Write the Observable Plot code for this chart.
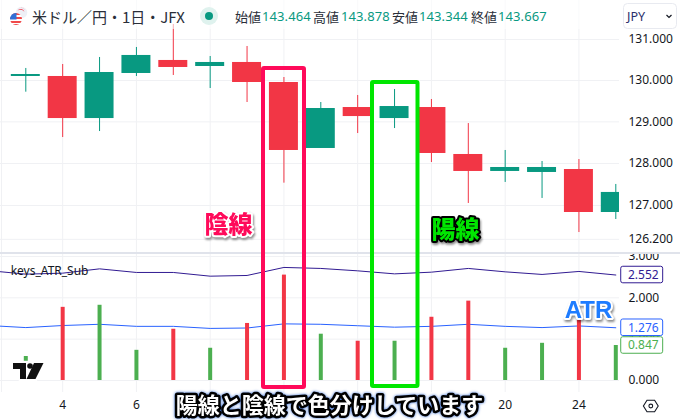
<!DOCTYPE html>
<html lang="ja">
<head>
<meta charset="utf-8">
<script src="https://cdn.jsdelivr.net/npm/d3@7"></script>
<script src="https://cdn.jsdelivr.net/npm/@observablehq/plot@0.6"></script>
<style>
html,body{margin:0;padding:0;background:#fff}
#stage{position:relative;width:680px;height:420px;overflow:hidden;background:#fff}
#stage>svg,#stage>div{position:absolute}
.hdr span{position:absolute;white-space:nowrap;top:0;line-height:33px}
.jp{font-family:"Noto Sans CJK JP",sans-serif;color:#2a2e39}
.num{font-family:"Noto Sans",sans-serif;color:#089981;font-size:13px;letter-spacing:.1px}
g.shadow text{filter:drop-shadow(1.5px 2px 1px rgba(0,0,0,.45))}
g.glow text{filter:drop-shadow(0 0 1.5px rgba(0,70,200,.8))}
</style>
</head>
<body>
<div id="stage"></div>
<script>
const candleIndex = [0,1,2,3,4,5,6,7,8,9,10,11,12,13,14,15,16];
const dayLabels   = [3,4,5,6,7,10,11,12,13,14,17,18,19,20,21,24,25];
const direction   = ["up","down","up","up","down","up","down","down","up","down","up","down","down","up","up","down","up"];
const high     = [130.293,130.390,130.561,130.805,131.368,130.585,130.829,130.073,129.467,129.637,129.782,129.540,128.959,128.312,128.048,128.096,127.500];
const low      = [129.717,128.623,128.767,130.098,130.122,129.806,129.467,127.531,128.360,128.719,128.839,128.024,127.048,127.548,127.167,126.360,126.668];
const bodyTop  = [130.146,130.098,130.195,130.610,130.488,130.439,130.439,129.952,129.322,129.346,129.370,129.346,128.216,127.905,127.905,127.857,127.310];
const bodyLow  = [130.098,129.080,129.080,130.171,130.317,130.341,129.952,128.312,128.360,129.128,129.080,128.240,127.810,127.810,127.786,126.834,126.834];
const trueRange = [0.58,1.77,1.82,0.73,1.24,0.78,1.38,2.55,1.12,0.95,0.95,1.53,1.92,0.78,0.90,1.51,0.847];
const lineIndex = [-1,0,1,2,3,4,5,6,7,8,9,10,11,12,13,14,15,16];
const upperLine = [2.658,2.573,2.597,2.701,2.614,2.614,2.524,2.541,2.735,2.711,2.653,2.580,2.621,2.711,2.629,2.566,2.638,2.552];
const lowerLine = [1.33,1.28,1.33,1.36,1.31,1.31,1.26,1.27,1.37,1.36,1.325,1.29,1.31,1.36,1.31,1.28,1.32,1.276];
const priceTicks = [131,130,129,128,127,126.2];
const atrTicks = [3,2,1,0];
const gridIndex = [1,3,5,7,9,11,13,15];
const labelIndex = [1,3,13,15];
const tags = [
  {value:2.552,color:"#311b92"},
  {value:1.276,color:"#2962ff"},
  {value:0.847,color:"#4caf50"}
];
const quote = [["始値","143.464"],["高値","143.878"],["安値","143.344"],["終値","143.667"]];

const RED="#f23645", TEAL="#089981", GREEN="#4caf50", GRID="#f0f1f4", TXT="#131722";
const PINK="#ff0a5a", LIME="#00e600";
const FONT="'Noto Sans',sans-serif";
const xScale={domain:[0,16],range:[25.3,615.3],axis:null};
const paneLeft=-0.66, paneRight=16.1, halfBody=0.393;
const candles=candleIndex.map((i,k)=>({i,dir:direction[k],high:high[k],low:low[k],top:bodyTop[k],bot:bodyLow[k]}));
const col=d=>d.dir==="up"?TEAL:RED;
const fmt=d3.format(".3f");
const common={width:680,marginLeft:0,marginTop:0,marginRight:61,x:xScale,style:{background:"transparent",fontFamily:FONT,fontSize:"12px",overflow:"hidden"}};

const topPlot=Plot.plot({...common,height:252,marginBottom:0,
  y:{type:"log",domain:[131,127],range:[39,205],axis:null},
  marks:[
    Plot.ruleY(priceTicks,{stroke:GRID}),
    Plot.ruleX([...gridIndex,paneLeft],{stroke:GRID}),
    Plot.ruleX(candles,{x:"i",y1:"low",y2:"high",stroke:col,strokeWidth:1}),
    Plot.rect(candles,{x1:d=>d.i-halfBody,x2:d=>Math.min(d.i+halfBody,paneRight),y1:"top",y2:"bot",fill:col}),
    Plot.axisY({anchor:"right",ticks:priceTicks,tickSize:0,tickPadding:9,tickFormat:fmt,label:null,fill:TXT})
  ]});

const bars=candleIndex.map((i,k)=>({i,v:trueRange[k],dir:direction[k]}));
const lineData=lineIndex.map((i,k)=>({i,up:upperLine[k],lo:lowerLine[k]}));
const botPlot=Plot.plot({...common,height:166,marginBottom:28,
  y:{domain:[0,3],range:[126,2],axis:null},
  marks:[
    Plot.ruleY(atrTicks,{stroke:GRID}),
    Plot.ruleX([...gridIndex,paneLeft],{stroke:GRID}),
    Plot.line(lineData,{x:"i",y:"up",stroke:"#311b92",strokeWidth:1}),
    Plot.line(lineData,{x:"i",y:"lo",stroke:"#2962ff",strokeWidth:1}),
    Plot.ruleX(bars,{x:"i",y1:0,y2:"v",strokeWidth:4,stroke:d=>d.dir==="up"?GREEN:RED}),
    Plot.axisY({anchor:"right",ticks:atrTicks,tickSize:0,tickPadding:9,tickFormat:fmt,label:null,fill:TXT}),
    Plot.axisX({anchor:"bottom",ticks:labelIndex,tickSize:0,tickPadding:8,tickFormat:d=>dayLabels[d],label:null,fill:TXT}),
    Plot.text(["keys_ATR_Sub"],{x:-0.41,y:2.64,textAnchor:"start",fill:TXT,fontSize:12}),
    Plot.rect(tags,{x1:16.147,x2:17.285,y1:d=>d.value-0.2,y2:d=>d.value+0.2,fill:"white",stroke:"color",rx:2}),
    Plot.text(tags,{x:16.33,y:"value",text:d=>fmt(d.value),textAnchor:"start",fill:"color"})
  ]});

const overlay=Plot.plot({width:680,height:420,margin:0,x:xScale,
  y:{domain:[0,3],range:[380,256],axis:null},
  style:{background:"transparent"},
  marks:[
    Plot.rect([0],{x1:6.446,x2:7.558,y1:7.549,y2:-0.169,fill:"none",stroke:PINK,strokeWidth:4,rx:1}),
    Plot.rect([0],{x1:9.402,x2:10.636,y1:7.21,y2:-0.145,fill:"none",stroke:LIME,strokeWidth:4,rx:1}),
    Plot.text(["陰線"],{x:5.497,y:3.762,fontSize:24,fontWeight:900,fontFamily:"'Noto Sans CJK JP'",fill:PINK,stroke:"white",strokeWidth:4,className:"shadow"}),
    Plot.text(["陽線"],{x:11.653,y:3.641,fontSize:24,fontWeight:900,fontFamily:"'Noto Sans CJK JP'",fill:LIME,stroke:"black",strokeWidth:4,className:"shadow"}),
    Plot.text(["ATR"],{x:15.26,y:1.706,fontSize:24,fontWeight:700,fontFamily:"'Liberation Sans'",fill:"#1e7cff",stroke:"white",strokeWidth:4,className:"shadow"}),
    Plot.text(["陽線と陰線で色分けしています"],{x:8.236,y:-0.605,fontSize:22,fontWeight:700,fontFamily:"'Noto Sans CJK JP'",fill:"white",stroke:"black",strokeWidth:5,className:"glow"})
  ]});

const stage=document.getElementById("stage");
function add(el,top){el.style.position="absolute";el.style.left="0";el.style.top=top+"px";el.style.display="block";stage.appendChild(el);return el;}
add(topPlot,0);
const sep=document.createElement("div");
sep.style.cssText="left:0;top:252px;width:680px;height:2px;background:#e0e3eb";
stage.appendChild(sep);
add(botPlot,254);
add(overlay,0);

// header
const hdr=document.createElement("div");
hdr.className="hdr";
hdr.style.cssText="left:0;top:0;width:600px;height:29px;background:rgba(255,255,255,.6)";
const add2=(txt,cls,left,size)=>{const s=document.createElement("span");s.textContent=txt;s.className=cls;s.style.left=left+"px";if(size)s.style.fontSize=size+"px";hdr.appendChild(s);};
add2("米ドル／円・1日・JFX","jp",32,15);
const quoteLeft=[235,313,392,471], numLeft=[262,341,419,498];
quote.forEach((q,k)=>{add2(q[0],"jp",quoteLeft[k],13);add2(q[1],"num",numLeft[k]);});
stage.appendChild(hdr);

const deco=document.createElement("div");
deco.style.cssText="left:0;top:0;width:680px;height:420px;pointer-events:none";
deco.innerHTML=`<svg width="680" height="420" style="position:absolute;left:0;top:0">
<circle cx="21.5" cy="12.5" r="5.8" fill="#eef0f6"/><path d="M18 8.5a5.5 5.5 0 0 1 7 1.5a5 5 0 0 0-7-1.5z M17.5 10.5a4 4 0 0 1 7 1.5a5 5 0 0 0-7-1.5z" fill="#f23645"/>
<circle cx="16" cy="19" r="6.2" fill="#fff"/>
<clipPath id="us"><circle cx="16" cy="19" r="6"/></clipPath>
<g clip-path="url(#us)"><rect x="9" y="13" width="14" height="2" fill="#f04a4a"/><rect x="9" y="17" width="14" height="2" fill="#f04a4a"/><rect x="9" y="21" width="14" height="2" fill="#f04a4a"/><rect x="9" y="24" width="14" height="2" fill="#f04a4a"/><rect x="9" y="13" width="7.5" height="6.5" fill="#2f6fd6"/></g>
<circle cx="209" cy="16" r="9" fill="#dff2ee"/><circle cx="209" cy="16" r="4" fill="#089981"/>
<rect x="623.5" y="3.5" width="53" height="25" rx="4" fill="#fff" stroke="#e8eaf0"/>
<path d="M666.5 15l2.5 2.5 2.5-2.5" fill="none" stroke="#131722" stroke-width="1.2"/>
<path d="M14 362h14v18h-8v-11h-6z M35 362h10l-9 18h-9z" fill="#fff" stroke="#fff" stroke-width="2.5"/>
<path d="M13 363h13v16h-6v-10h-7z M34 363h9.5l-8 16h-9z" fill="#111"/><circle cx="30" cy="366" r="2.8" fill="#111"/>
<path d="M647 400.3h7.6l3.6 5.7-3.6 5.7h-7.6l-3.6-5.7z" fill="none" stroke="#131722" stroke-width="1.1"/><circle cx="650.8" cy="406" r="1.9" fill="none" stroke="#131722" stroke-width="1.1"/>
<text x="627" y="21" font-family="'Noto Sans',sans-serif" font-size="12.5" fill="#2a2e6a">JPY</text>
</svg>`;
stage.appendChild(deco);
</script>
</body>
</html>
